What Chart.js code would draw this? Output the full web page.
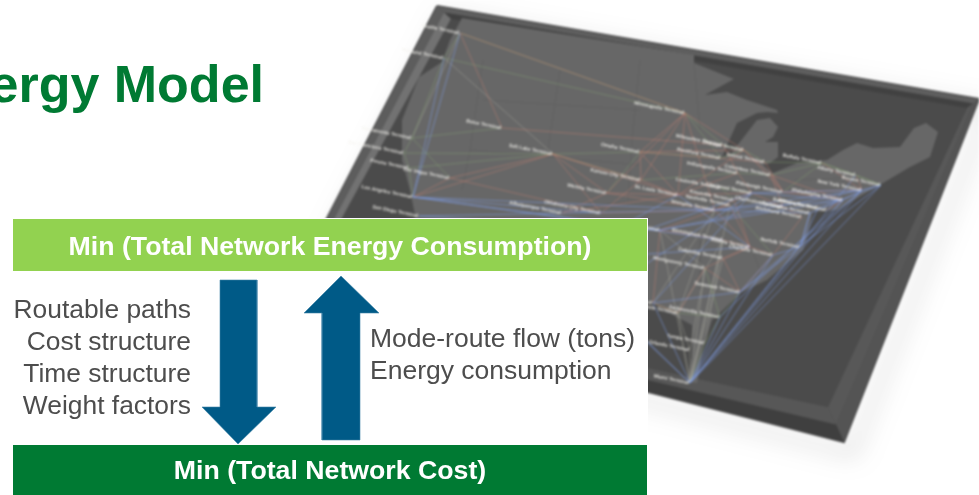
<!DOCTYPE html>
<html><head><meta charset="utf-8">
<script src="https://cdn.jsdelivr.net/npm/chart.js@4"></script>
<style>html,body{margin:0;padding:0;background:#fff;overflow:hidden}canvas{display:block;position:absolute;left:0;top:0}#m{filter:blur(.8px)}</style>
</head><body><canvas id="m" width="979" height="495"></canvas><canvas id="c" width="979" height="495"></canvas>
<script>
// Map tray (values in the picture's own axis units)
const trayOuter=[[437,6],[979,99],[844,442],[285,299]];
const trayInner=[[451,19],[967,108],[828,407],[301,293]];
const landOutline=[[462,18],[694,55],[694,63],[734,79],[705,95],[727,92],[747,100],[777,110],[778,113],[767,112],[757,113],[737,123],[728,143],[722,157],[730,155],[740,142],[757,120],[770,118],[778,127],[773,137],[765,142],[778,142],[778,157],[770,163],[763,165],[773,173],[797,163],[827,160],[843,150],[857,143],[873,148],[900,147],[914,128],[926,123],[938,132],[930,157],[910,167],[883,183],[837,210],[813,212],[808,233],[803,250],[787,263],[767,280],[740,293],[723,310],[712,320],[703,347],[697,383],[687,382],[692,357],[692,325],[673,315],[653,303],[640,300],[600,300],[500,280],[420,240],[410,190],[402,160],[402,120],[419,77],[442,62],[450,40]];
const stateLines=[[[483,60],[470,150],[462,190]],[[560,70],[548,150]],[[640,60],[632,140],[628,200]],[[470,150],[640,165]],[[483,100],[640,110]],[[694,63],[700,130]],[[560,210],[640,200]],[[795,180],[850,178]],[[700,240],[700,290]],[[740,220],[760,270]]];
// Network nodes
const nodeNames=["Seattle Terminal","Portland Terminal","Sacramento Terminal","San Francisco Terminal","Fresno Terminal","Las Vegas Terminal","Los Angeles Terminal","San Diego Terminal","Boise Terminal","Salt Lake Terminal","Minneapolis Terminal","Omaha Terminal","Kansas City Terminal","Wichita Terminal","St. Louis Terminal","Oklahoma City Terminal","Albuquerque Terminal","Milwaukee Terminal","Chicago Terminal","Rockford Terminal","Detroit Terminal","Indianapolis Terminal","Columbus Terminal","Louisville Terminal","Cincinnati Terminal","Pittsburgh Terminal","Knoxville Terminal","Buffalo Terminal","Albany Terminal","Boston Terminal","New York Terminal","Philadelphia Terminal","Baltimore Terminal","Memphis Terminal","Richmond Terminal","Charleston Terminal","Wilmington Terminal","Washington Terminal","Norfolk Terminal","Birmingham Terminal","Atlanta Terminal","Charlotte Terminal","Montgomery Terminal","Savannah Terminal","Jacksonville Terminal","Tampa Terminal","Orlando Terminal","Miami Terminal","New Orleans Terminal","Mobile Terminal","Jackson Terminal","Columbia Terminal","Nashville Terminal","Dallas Terminal","Houston Terminal","El Paso Terminal"];
const nodeX=[460,444,412,404,409,450,413,419,502,553,685,640,641,607,678,601,562,723,744,721,765,738,771,721,752,783,734,822,856,881,862,843,818,715,802,783,827,810,800,723,750,773,705,740,720,705,690,690,653,678,660,723,730,560,600,480];
const nodeY=[33,58,138,153,168,178,197,216,128,154,113,152,180,193,195,213,213,145,150,158,162,173,175,188,193,192,200,163,175,185,190,200,208,210,217,207,210,213,247,240,247,255,268,292,317,343,350,383,303,313,230,258,205,260,295,255];
// Routes (pairs of node indices)
const blueRoutes=[[0,6],[1,6],[6,33],[6,50],[6,39],[6,15],[7,33],[7,50],[50,31],[50,30],[33,31],[33,30],[33,37],[29,47],[30,47],[31,47],[28,47],[38,47],[41,47],[29,43],[30,43],[31,44],[32,38],[30,38],[37,38],[43,47],[44,47],[48,47],[54,47],[53,47],[48,43],[43,41],[41,38],[38,37],[37,31],[31,30],[30,29],[48,24],[54,24],[53,14],[53,24],[53,40],[14,40],[24,31],[24,30],[29,32]];
const redRoutes=[[0,10],[0,8],[8,17],[9,5],[9,6],[9,13],[9,15],[9,14],[9,12],[5,6],[10,18],[10,11],[10,12],[10,14],[10,13],[10,33],[11,18],[11,20],[11,14],[11,12],[12,15],[12,14],[14,18],[14,21],[14,24],[13,14],[13,33],[15,33],[16,14],[16,13],[5,15],[17,21],[18,22],[18,25],[20,25],[21,24],[22,25],[25,31],[25,30],[27,30],[28,30],[22,31],[24,35],[35,34],[26,33],[26,40],[33,40],[39,40],[50,33],[50,39],[42,40],[40,41],[41,43],[51,43],[51,40],[42,43],[49,48],[49,42],[50,48],[36,31],[22,35],[24,26],[52,40],[52,33],[34,41]];
const greenRoutes=[[0,10],[1,10],[0,1],[1,2],[2,8],[2,3],[3,4],[4,6],[2,5],[4,9],[3,9],[9,11],[9,12],[11,13],[10,17],[10,19],[17,18],[19,18],[18,20],[20,27],[27,28],[28,29],[27,29],[22,27],[45,47],[44,45],[48,49],[49,44],[42,44],[43,44],[25,27],[23,24],[23,26],[52,41],[12,21],[21,22],[11,19]];
const paleRoutes=[[47,42],[47,49],[47,39],[47,50],[47,46],[47,52],[46,49],[46,42],[45,39],[33,48],[33,49],[39,49],[50,42],[51,47],[1,9],[0,2]];
// Diagram shapes
const panelBack=[[12,218],[648,218],[648,495],[12,495]];
const topBar=[[13,219],[647,219],[647,271],[13,271]];
const bottomBar=[[13,445],[647,445],[647,495],[13,495]];
const downArrow=[[220,280],[257,280],[257,407],[276,407],[238,444],[202,407],[220,407]];
const upArrow=[[322,440],[360,440],[360,313],[379,313],[341,276],[304,313],[322,313]];
// Text
const titleText="Energy Model";
const topBarText="Min (Total Network Energy Consumption)";
const bottomBarText="Min (Total Network Cost)";
const leftLines=["Routable paths","Cost structure","Time structure","Weight factors"];
const rightLines=["Mode-route flow (tons)","Energy consumption"];

const pts=a=>a.map(p=>({x:p[0],y:p[1]}));
const shape=(a,fill,stroke,w)=>({data:pts(a.concat([a[0]])),showLine:true,fill:fill?'shape':false,backgroundColor:fill||'transparent',borderColor:stroke||'transparent',borderWidth:w===undefined?0:w,pointRadius:0,tension:0,clip:false});
const mid=(a,b)=>[(a[0]+b[0])/2,(a[1]+b[1])/2];
const bevel=(i,j,cOut,cIn)=>{const m1=mid(trayOuter[i],trayInner[i]),m2=mid(trayOuter[j],trayInner[j]);
  return [shape([trayOuter[i],trayOuter[j],m2,m1],cOut),shape([m1,m2,trayInner[j],trayInner[i]],cIn)];};
const route=(list,color,w)=>{const d=[];list.forEach(e=>{d.push({x:nodeX[e[0]],y:nodeY[e[0]]},{x:nodeX[e[1]],y:nodeY[e[1]]},{x:null,y:null});});
  return {data:d,showLine:true,fill:false,borderColor:color,borderWidth:w,pointRadius:0,tension:0,spanGaps:false,clip:false};};

const mapLayers=[
  shape(trayOuter,'#4b4b4b','#4b4b4b',2),
  ...bevel(0,1,'#5e5e5e','#414141'),
  ...bevel(1,2,'#545454','#585858'),
  ...bevel(2,3,'#3f3f3f','#575757'),
  ...bevel(3,0,'#5d5d5d','#727272'),
  shape(trayInner,'#4b4b4b'),
  shape(landOutline,'#676767'),
  ...stateLines.map(l=>({data:pts(l),showLine:true,fill:false,borderColor:'#5e5e5e',borderWidth:.7,pointRadius:0,tension:0,clip:false})),
  route(paleRoutes,'rgba(205,205,190,.3)',1),
  route(greenRoutes,'rgba(140,175,120,.42)',.9),
  route(redRoutes,'rgba(205,130,115,.48)',.9),
  route(blueRoutes,'rgba(125,155,225,.58)',1)
];
const panelLayers=[shape(panelBack,'#ffffff'),shape(topBar,'#92d250'),shape(bottomBar,'#007a33'),
  shape(downArrow,'#005a87','#3f85a8',.6),shape(upArrow,'#005a87','#3f85a8',.6)];
mapLayers.forEach((d,i)=>{d.order=-i;});
panelLayers.forEach((d,i)=>{d.order=-i;});

const mapPlugin={id:'mapPlugin',
  beforeDatasetDraw(chart,a){if(a.index===0){const c=chart.ctx;c.shadowColor='rgba(0,0,0,.6)';c.shadowBlur=24;c.shadowOffsetX=9;c.shadowOffsetY=11;}},
  afterDatasetDraw(chart,a){if(a.index===0){const c=chart.ctx;c.shadowColor='transparent';c.shadowBlur=0;c.shadowOffsetX=0;c.shadowOffsetY=0;}},
  afterDatasetsDraw(chart){const c=chart.ctx,X=chart.scales.x,Y=chart.scales.y;
    c.save();c.font='bold 5px "Liberation Sans", Arial, sans-serif';c.fillStyle='rgba(245,243,238,.85)';c.textAlign='right';c.textBaseline='middle';
    nodeNames.forEach((n,i)=>{c.save();c.translate(X.getPixelForValue(nodeX[i])-1,Y.getPixelForValue(nodeY[i]));c.rotate(.2);c.fillText(n,0,0);c.restore();});
    c.restore();}
};
const panelPlugin={id:'panelPlugin',
  afterDatasetsDraw(chart){const c=chart.ctx,X=chart.scales.x,Y=chart.scales.y;
    const t=(s,x,y,font,col,al)=>{c.font=font;c.fillStyle=col;c.textAlign=al;c.textBaseline='alphabetic';c.fillText(s,X.getPixelForValue(x),Y.getPixelForValue(y));};
    c.save();
    t(titleText,264,102,'bold 52px "Liberation Sans", Arial, sans-serif','#007a33','right');
    t(topBarText,330,255,'bold 26.7px "Liberation Sans", Arial, sans-serif','#ffffff','center');
    t(bottomBarText,330,479,'bold 26.7px "Liberation Sans", Arial, sans-serif','#ffffff','center');
    leftLines.forEach((s,i)=>t(s,191,318+i*32,'26.4px "Liberation Sans", Arial, sans-serif','#4d4d4d','right'));
    rightLines.forEach((s,i)=>t(s,370,347+i*32,'26.5px "Liberation Sans", Arial, sans-serif','#4d4d4d','left'));
    c.restore();}
};
const opts={responsive:false,animation:false,layout:{padding:0},events:[],
  plugins:{legend:{display:false},tooltip:{enabled:false},title:{display:false}},
  scales:{x:{type:'linear',min:0,max:979,display:false},y:{type:'linear',min:0,max:495,reverse:true,display:false}}};
new Chart(document.getElementById('m'),{type:'scatter',data:{datasets:mapLayers},plugins:[mapPlugin],options:opts});
new Chart(document.getElementById('c'),{type:'scatter',data:{datasets:panelLayers},plugins:[panelPlugin],options:opts});
</script></body></html>
